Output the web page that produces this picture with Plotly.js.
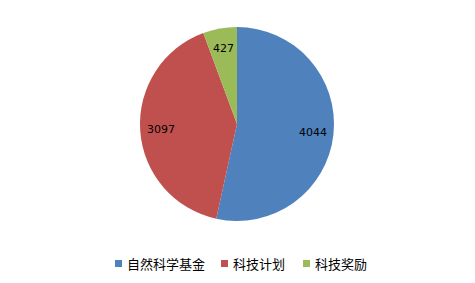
<!DOCTYPE html>
<html>
<head>
<meta charset="utf-8">
<script src="https://cdn.plot.ly/plotly-3.0.1.min.js"></script>
<style>html,body{margin:0;padding:0;background:#fff;}</style>
</head>
<body>
<div id="chart" style="width:475px;height:283px;"></div>
<script>
// Funding sources
const categories = ['自然科学基金', '科技计划', '科技奖励'];
const values = [4044, 3097, 427];
const colors = ['#4F81BD', '#C0504D', '#9BBB59'];

const W = 475, H = 283;
const pieDomain = {x: [0.2947, 0.7032], y: [0.219, 0.9046]};
const radiusPx = 97;
const labelRadius = 0.79;   // data labels sit at this fraction of the radius

const trace = {
  type: 'pie',
  labels: categories,
  values: values,
  sort: false,
  direction: 'clockwise',
  rotation: 0,
  marker: {colors: colors, line: {width: 0}},
  textinfo: 'none',
  hoverinfo: 'label+value',
  showlegend: false,
  domain: pieDomain
};

// Value labels placed along each slice's bisector
const total = values.reduce((a, b) => a + b, 0);
const cx = (pieDomain.x[0] + pieDomain.x[1]) / 2;
const cy = (pieDomain.y[0] + pieDomain.y[1]) / 2;
const annotations = [];
let cum = 0;
values.forEach((v) => {
  const mid = (cum + v / 2) / total * 2 * Math.PI;
  cum += v;
  annotations.push({
    xref: 'paper', yref: 'paper',
    x: cx + labelRadius * radiusPx * Math.sin(mid) / W,
    y: cy + labelRadius * radiusPx * Math.cos(mid) / H,
    text: String(v),
    showarrow: false,
    xanchor: 'center', yanchor: 'middle',
    font: {family: 'DejaVu Sans, sans-serif', size: 11, color: '#000'}
  });
});

// Bottom legend: small colour squares followed by the category names
const legendY = 263.5;
const legendX = [115, 221, 303];
const shapes = [];
categories.forEach((name, i) => {
  const x0 = legendX[i];
  shapes.push({
    type: 'rect', xref: 'paper', yref: 'paper',
    x0: x0 / W, x1: (x0 + 7) / W,
    y0: (H - legendY - 3.5) / H, y1: (H - legendY + 3.5) / H,
    fillcolor: colors[i], line: {width: 0}
  });
  annotations.push({
    xref: 'paper', yref: 'paper',
    x: (x0 + 10) / W, y: (H - legendY) / H,
    text: name, showarrow: false,
    xanchor: 'left', yanchor: 'middle',
    font: {family: 'Noto Sans CJK SC, sans-serif', size: 13, color: '#000'}
  });
});

const layout = {
  width: W,
  height: H,
  margin: {l: 0, r: 0, t: 0, b: 0},
  paper_bgcolor: '#fff',
  showlegend: false,
  annotations: annotations,
  shapes: shapes
};

Plotly.newPlot('chart', [trace], layout, {displayModeBar: false, staticPlot: true});
</script>
</body>
</html>
